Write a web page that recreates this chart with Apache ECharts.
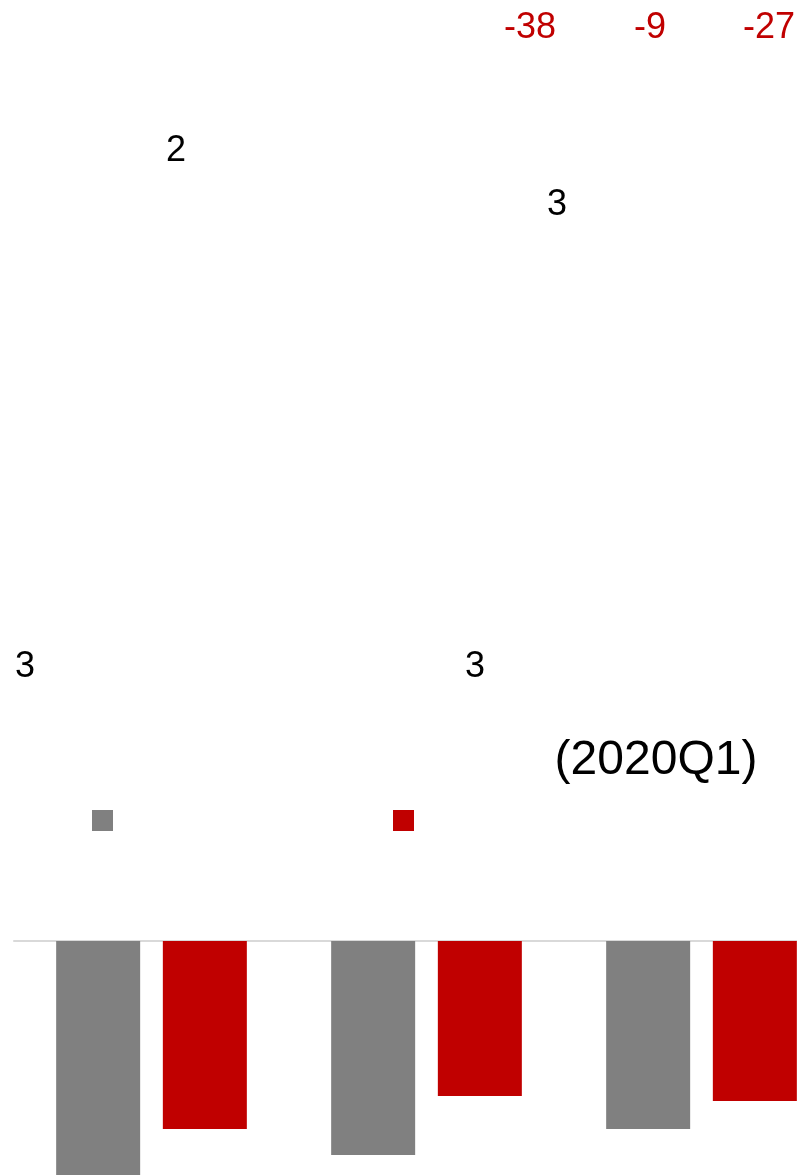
<!DOCTYPE html>
<html>
<head>
<meta charset="utf-8">
<title>Bar chart</title>
<script src="https://cdn.jsdelivr.net/npm/echarts@6/dist/echarts.min.js"></script>
<style>
  html, body { margin: 0; padding: 0; background: #fff; }
  #chart { width: 797px; height: 1175px; }
</style>
</head>
<body>
<div id="chart"></div>
<script>
// Categories and the two bar series
var categories = ['A', 'B', 'C'];
var seriesGray = [-50, -42.8, -37.6];
var seriesRed = [-37.6, -31, -32];

// Free-standing text figures
var redNotes = ['-38', '-9', '-27'];
var blackNotes = ['2', '3', '3', '3'];
var periodNote = '(2020Q1)';

var FONT = '"Liberation Sans", Arial, sans-serif';
var RED = '#c00000';
var GRAY = '#808080';

function textEl(str, x, y, size, color) {
  return {
    type: 'text',
    x: x, y: y,
    style: {
      text: str,
      fill: color,
      font: size + 'px ' + FONT,
      textAlign: 'center',
      textVerticalAlign: 'middle'
    }
  };
}

var chart = echarts.init(document.getElementById('chart'), null, { renderer: 'canvas' });

chart.setOption({
  animation: false,
  backgroundColor: '#ffffff',
  // the plot area runs past the right and bottom edges of the canvas
  grid: {
    left: 14, top: 941, width: 825, height: 300,
    containLabel: false, outerBoundsMode: 'none'
  },
  legend: [
    {
      data: ['series1'], left: 92, top: 810, padding: 0, itemWidth: 21, itemHeight: 21,
      icon: 'rect', formatter: function () { return ''; }, selectedMode: false
    },
    {
      data: ['series2'], left: 393, top: 810, padding: 0, itemWidth: 21, itemHeight: 21,
      icon: 'rect', formatter: function () { return ''; }, selectedMode: false
    }
  ],
  xAxis: {
    type: 'category',
    data: categories,
    axisLine: { show: true, onZero: true, lineStyle: { color: '#d9d9d9', width: 2 } },
    axisTick: { show: false },
    axisLabel: { show: false },
    splitLine: { show: false }
  },
  yAxis: {
    type: 'value',
    min: -60, max: 0,
    show: false
  },
  series: [
    {
      name: 'series1', type: 'bar', data: seriesGray,
      barWidth: 84, barGap: '27%',
      itemStyle: { color: GRAY }
    },
    {
      name: 'series2', type: 'bar', data: seriesRed,
      barWidth: 84, barGap: '27%',
      itemStyle: { color: RED }
    }
  ],
  graphic: [
    textEl(redNotes[0], 530, 28, 36, RED),
    textEl(redNotes[1], 650, 28, 36, RED),
    textEl(redNotes[2], 769, 28, 36, RED),
    textEl(blackNotes[0], 176, 151, 36, '#000'),
    textEl(blackNotes[1], 557, 205, 36, '#000'),
    textEl(blackNotes[2], 25, 667, 36, '#000'),
    textEl(blackNotes[3], 475, 667, 36, '#000'),
    textEl(periodNote, 656, 761, 48, '#000')
  ]
});
</script>
</body>
</html>
